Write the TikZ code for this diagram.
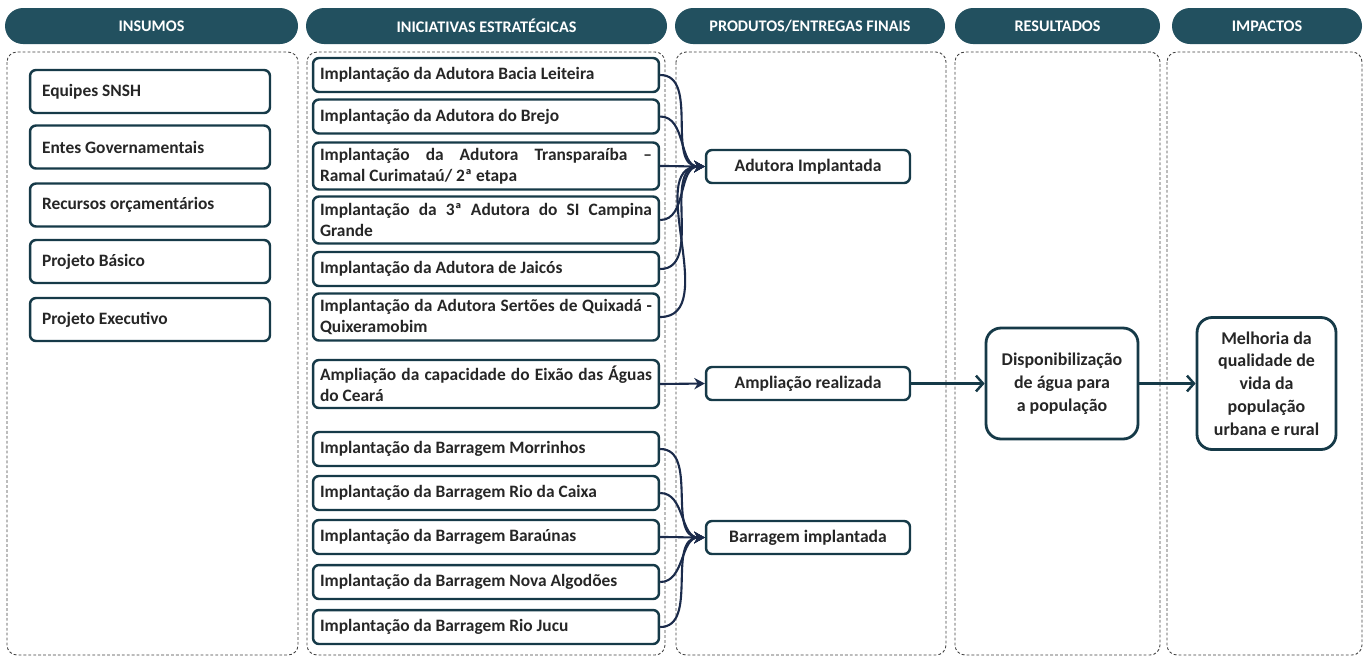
\documentclass[tikz,border=0pt]{standalone}
\usepackage{fontspec}
\setmainfont{Carlito}
\usepackage{tikz}
\usetikzlibrary{arrows.meta}

\definecolor{cabec}{HTML}{22505F}
\definecolor{borda}{HTML}{163A48}
\definecolor{seta}{HTML}{1B2B4B}

\tikzset{
    cabtxt/.style={text=white, font=\bfseries\fontsize{9.2}{10}\selectfont, inner sep=0pt},
    painel/.style={draw=black!75, dash pattern=on 1.6pt off 1.2pt, line width=0.5pt, rounded corners=0.2cm},
    caixa/.style={draw=borda, line width=1.4pt, rounded corners=0.12cm, fill=white, text=black!85,
        font=\bfseries\fontsize{9.9}{11.9}\selectfont},
    insumo/.style={caixa, minimum width=4.8cm, minimum height=0.86cm, text width=4.32cm, inner xsep=0.24cm, align=flush left},
    iniciativa/.style={caixa, text width=6.64cm, inner xsep=0.14cm, inner ysep=0pt, align=justify},
    produto/.style={caixa, minimum width=4.08cm, minimum height=0.66cm, align=center, font=\bfseries\fontsize{10}{12}\selectfont},
    grande/.style={caixa, line width=1.6pt, rounded corners=0.3cm, align=center,
        font=\bfseries\fontsize{10.2}{13}\selectfont},
    ligacao/.style={draw=seta, line width=1.2pt, -{Stealth[length=6pt,width=6.5pt]}},
    fluxo/.style={draw=borda, line width=1.4pt, -{Straight Barb[length=4pt,width=9pt]}}
}

\begin{document}
\begin{tikzpicture}[x=0.02cm,y=-0.02cm]
    \useasboundingbox (0,0) rectangle (1371,657);

    % cabecalhos
    \foreach \n/\xa/\xb/\t in {1/5/298/INSUMOS, 2/306/667/INICIATIVAS ESTRATÉGICAS, 3/675/945/{PRODUTOS/ENTREGAS FINAIS}, 4/955/1160/RESULTADOS, 5/1172/1362/IMPACTOS} {
        \fill[cabec, rounded corners=0.36cm] (\xa,8) rectangle (\xb,44);
        \node[cabtxt] (h\n) at ({(\xa+\xb)/2},26) {\t};
    }

    % paineis tracejados
    \foreach \xa/\xb in {7/298, 307/665, 676/946, 955/1160, 1167/1362} {
        \draw[painel] (\xa,52) rectangle (\xb,655);
    }

    % insumos
    \foreach \i/\y/\t in {1/91.5/Equipes SNSH, 2/147/Entes Governamentais, 3/205/Recursos orçamentários, 4/261.5/Projeto Básico, 5/319.5/Projeto Executivo} {
        \node[insumo] (e\i) at (150,\y) {\t};
    }

    % iniciativas
    \foreach \i/\y/\h/\t in {
        1/75/0.68/Implantação da Adutora Bacia Leiteira,
        2/116.5/0.68/Implantação da Adutora do Brejo,
        3/166/0.94/{Implantação da Adutora Transparaíba –\linebreak Ramal Curimataú/ 2ª etapa},
        4/220/0.94/{Implantação da 3ª Adutora do SI Campina\linebreak Grande},
        5/269/0.68/Implantação da Adutora de Jaicós,
        6/317/0.94/{Implantação da Adutora Sertões de Quixadá -\linebreak Quixeramobim},
        7/384/0.96/{Ampliação da capacidade do Eixão das Águas\linebreak do Ceará},
        8/449/0.68/Implantação da Barragem Morrinhos,
        9/493/0.68/Implantação da Barragem Rio da Caixa,
        10/537/0.68/Implantação da Barragem Baraúnas,
        11/582/0.68/Implantação da Barragem Nova Algodões,
        12/627/0.68/Implantação da Barragem Rio Jucu} {
        \node[iniciativa, minimum height=\h cm] (i\i) at (486,\y) {\t};
    }

    % produtos
    \foreach \i/\y/\t in {1/166.5/Adutora Implantada, 2/383.5/Ampliação realizada, 3/537.5/Barragem implantada} {
        \node[produto] (p\i) at (808,\y) {\t};
    }

    \node[grande, minimum width=3.04cm, minimum height=2.22cm] (r) at (1062,383.5) {Disponibilização\\de água para\\a população};
    \node[grande, minimum width=2.78cm, minimum height=2.64cm] (m) at (1266.5,383.5) {Melhoria da\\qualidade de\\vida da\\população\\urbana e rural};

    % ligacoes
    \foreach \i in {1,...,6} {
        \draw[ligacao] (i\i.east) to[out=0,in=180] (p1.west);
    }
    \draw[ligacao] (i7.east) -- (p2.west);
    \foreach \i in {8,...,12} {
        \draw[ligacao] (i\i.east) to[out=0,in=180] (p3.west);
    }
    \draw[fluxo] (p2.east) -- (r.west);
    \draw[fluxo] (r.east) -- (m.west);
\end{tikzpicture}
\end{document}
